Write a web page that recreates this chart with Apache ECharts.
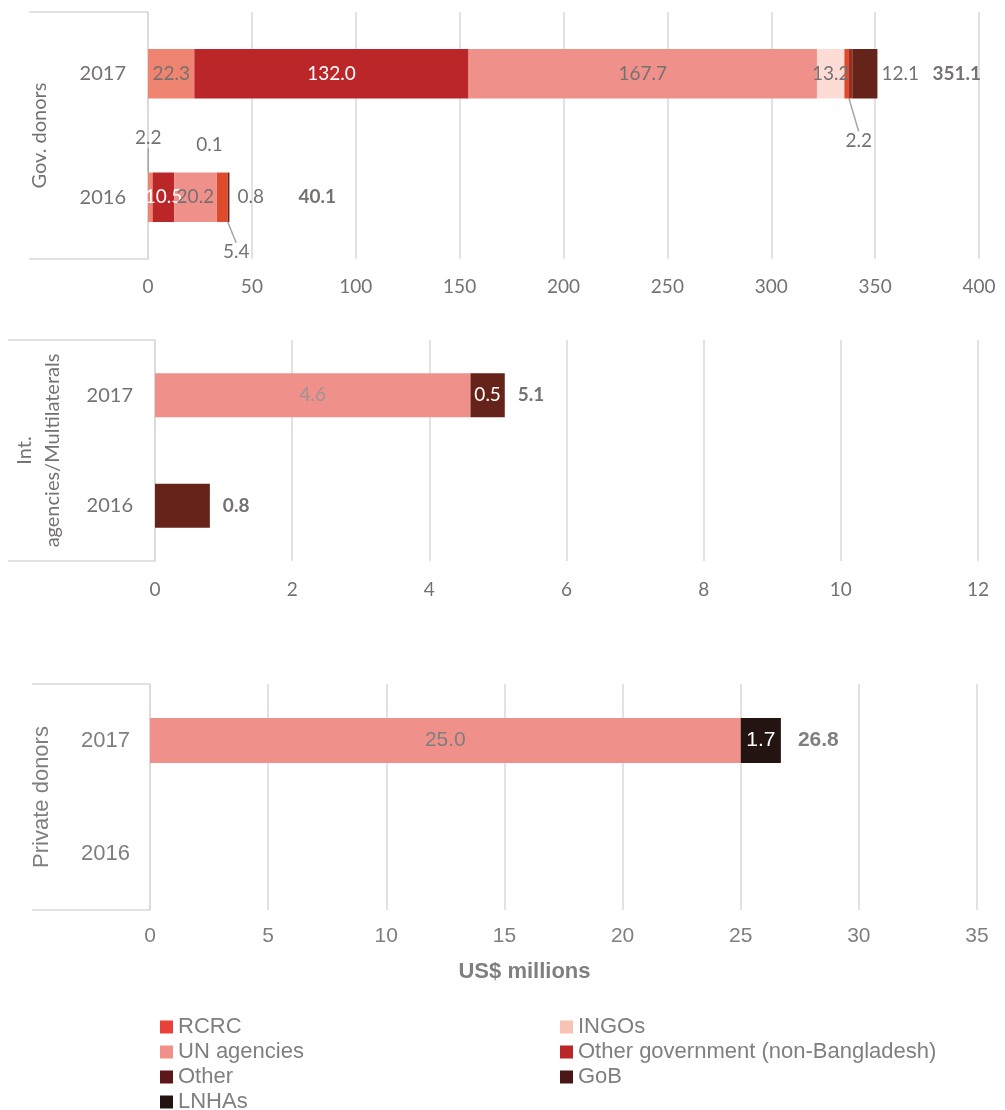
<!DOCTYPE html>
<html>
<head>
<meta charset="utf-8">
<script src="https://cdn.jsdelivr.net/npm/echarts@6/dist/echarts.min.js"></script>
<style>
  html, body { margin: 0; padding: 0; background: #fff; }
  #chart { width: 1005px; height: 1110px; }
</style>
</head>
<body>
<div id="chart"></div>
<script>
// categories
var years = ['2017', '2016'];
var groups = ['Gov. donors', 'Int.\nagencies/Multilaterals', 'Private donors'];

// Gov. donors (2017, 2016)
var govUnlisted = [22.3, 2.2];
var govOtherGov = [132.0, 10.5];
var govUN = [167.7, 20.2];
var govINGOs = [13.2, 0.1];
var govRCRC = [2.2, 5.4];
var govOther = [1.6, null];
var govGoB = [12.1, 0.8];
var govTotal = [351.1, 40.1];

// Int. agencies/Multilaterals
var intUN = [4.6, null];
var intGoB = [0.5, 0.8];
var intTotal = [5.1, 0.8];

// Private donors
var privUN = [25.0, null];
var privLNHAs = [1.7, null];
var privTotal = [26.8, null];

// x axis ticks [min, max, step]
var govTicks = [0, 400, 50];
var intTicks = [0, 12, 2];
var privTicks = [0, 35, 5];

var GRID = '#D9D9D9';
var TXT = '#767171';
var TXT3 = '#7F7F7F';
var LATO = 'Lato';
var ARIAL = 'Liberation Sans';

var chart = echarts.init(document.getElementById('chart'));

function fmt(p) { return p.value == null ? '' : Number(p.value).toFixed(1); }

// one stacked segment series
function seg(gi, name, values, color, labelColor, font, size, items, moves) {
    var s = {
        type: 'bar',
        name: name,
        xAxisIndex: gi,
        yAxisIndex: gi * 2,
        stack: 'g' + gi,
        barWidth: '40%',
        itemStyle: { color: color },
        label: {
            show: true, position: 'inside', color: labelColor,
            fontFamily: font, fontSize: size, formatter: fmt
        },
        labelLine: { show: false, lineStyle: { color: '#A6A6A6', width: 1.5 } },
        data: values.map(function (v, i) {
            var it = { value: v };
            if (items && items[i]) {
                for (var k in items[i]) it[k] = items[i][k];
            }
            return it;
        })
    };
    if (moves) {
        s.labelLayout = function (p) {
            var m = moves[p.dataIndex];
            return m ? { dx: m[0], dy: m[1] } : {};
        };
    }
    return s;
}

// zero-width bar at the end of each stack carrying the total label
function total(gi, totals, font, size, dist) {
    return {
        type: 'bar',
        name: 'Total',
        xAxisIndex: gi,
        yAxisIndex: gi * 2,
        stack: 'g' + gi,
        barWidth: '40%',
        itemStyle: { color: 'rgba(0,0,0,0)' },
        label: {
            show: true, position: 'right', color: gi == 2 ? TXT3 : TXT,
            fontFamily: font, fontSize: size, fontWeight: 'bold',
            formatter: function (p) { return totals[p.dataIndex].toFixed(1); }
        },
        data: totals.map(function (t, i) {
            return t == null ? null : { value: 0, label: { distance: dist[i] } };
        })
    };
}

function xAxis(gi, ticks, font, size, margin, color) {
    return {
        type: 'value', gridIndex: gi,
        min: ticks[0], max: ticks[1], interval: ticks[2],
        axisLine: { show: false }, axisTick: { show: false },
        splitLine: { show: true, lineStyle: { color: GRID, width: 1.5 } },
        axisLabel: { margin: margin, color: color, fontFamily: font, fontSize: size }
    };
}

function yAxes(gi, font, size, color, yearMargin, tickLen, groupMargin) {
    return [{
        type: 'category', gridIndex: gi, data: years, inverse: true,
        position: 'left',
        axisLine: { show: true, lineStyle: { color: GRID, width: 1.5 } },
        axisTick: { show: false },
        axisLabel: { margin: yearMargin, color: color, fontFamily: font, fontSize: size }
    }, {
        type: 'category', gridIndex: gi, data: [groups[gi]],
        position: 'left',
        axisLine: { show: false },
        axisTick: { show: true, length: tickLen, lineStyle: { color: GRID, width: 1.5 } },
        axisLabel: {
            rotate: 90, margin: groupMargin, color: color,
            fontFamily: font, fontSize: size, lineHeight: 28
        }
    }];
}

var RCRC = '#DD4A2C', INGO = '#FDDCD5', UN = '#F0908A', OGOV = '#BB2629',
    OTHER = '#9B2D22', GOB = '#66231A', LNHA = '#231412', UNLISTED = '#EF8470';

var moveLine = { labelLine: { show: true } };

var series = [
    // Gov. donors
    seg(0, 'Unlisted', govUnlisted, UNLISTED, TXT, LATO, 19, [null, moveLine], { 1: [-2, -59] }),
    seg(0, 'Other government (non-Bangladesh)', govOtherGov, OGOV, '#fff', LATO, 19),
    seg(0, 'UN agencies', govUN, UN, TXT, LATO, 19),
    seg(0, 'INGOs', govINGOs, INGO, TXT, LATO, 19, null, { 1: [-7, -52] }),
    seg(0, 'RCRC', govRCRC, RCRC, TXT, LATO, 19, [moveLine, moveLine], { 0: [12, 67], 1: [14, 55] }),
    seg(0, 'Other', govOther, OTHER, TXT, LATO, 19, [{ label: { show: false } }, null]),
    seg(0, 'GoB', govGoB, GOB, TXT, LATO, 19, [
        { label: { position: 'right', distance: 4 } },
        { label: { position: 'right', distance: 8 } }
    ]),
    total(0, govTotal, LATO, 19, [55, 69]),
    // Int. agencies/Multilaterals
    seg(1, 'UN agencies', intUN, UN, '#9E9494', LATO, 19),
    seg(1, 'GoB', intGoB, GOB, '#fff', LATO, 19, [null, { label: { show: false } }]),
    total(1, intTotal, LATO, 19, [13, 13]),
    // Private donors
    seg(2, 'UN agencies', privUN, UN, TXT3, ARIAL, 21),
    seg(2, 'LNHAs', privLNHAs, LNHA, '#fff', ARIAL, 21),
    total(2, privTotal, ARIAL, 21, [17, 17])
];

function legend(left, top, items) {
    return {
        left: left, top: top, orient: 'vertical', icon: 'rect',
        itemWidth: 13, itemHeight: 13, itemGap: 3,
        textStyle: { color: TXT3, fontFamily: ARIAL, fontSize: 22 },
        data: items
    };
}

chart.setOption({
    backgroundColor: '#fff',
    animation: false,
    grid: [
        { left: 148, right: 26, top: 12, height: 247 },
        { left: 155, right: 27, top: 340, height: 221 },
        { left: 150, right: 28, top: 684, height: 226 }
    ],
    xAxis: [
        xAxis(0, govTicks, LATO, 19, 18, TXT),
        xAxis(1, intTicks, LATO, 19, 19, TXT),
        (function () {
            var a = xAxis(2, privTicks, ARIAL, 21, 16, TXT3);
            a.name = 'US$ millions';
            a.nameLocation = 'middle';
            a.nameGap = 51;
            a.nameTextStyle = {
                color: TXT3, fontFamily: ARIAL, fontSize: 22, fontWeight: 'bold',
                padding: [0, 78, 0, 0]
            };
            return a;
        })()
    ],
    yAxis: [].concat(
        yAxes(0, LATO, 20, TXT, 22, 119, 94),
        yAxes(1, LATO, 20, TXT, 22, 147, 88),
        yAxes(2, ARIAL, 22, TXT3, 20, 118, 94)
    ),
    legend: [
        legend(155, 1011, [
            { name: 'RCRC', itemStyle: { color: '#E8413A' } },
            { name: 'UN agencies', itemStyle: { color: '#F09088' } },
            { name: 'Other', itemStyle: { color: '#5E1719' } }
        ]),
        legend(155, 1086, [
            { name: 'LNHAs', itemStyle: { color: '#231412' } }
        ]),
        legend(555, 1011, [
            { name: 'INGOs', itemStyle: { color: '#F8C3B4' } },
            { name: 'Other government (non-Bangladesh)', itemStyle: { color: '#BB2629' } },
            { name: 'GoB', itemStyle: { color: '#4A1717' } }
        ])
    ],
    series: series
});
</script>
</body>
</html>
